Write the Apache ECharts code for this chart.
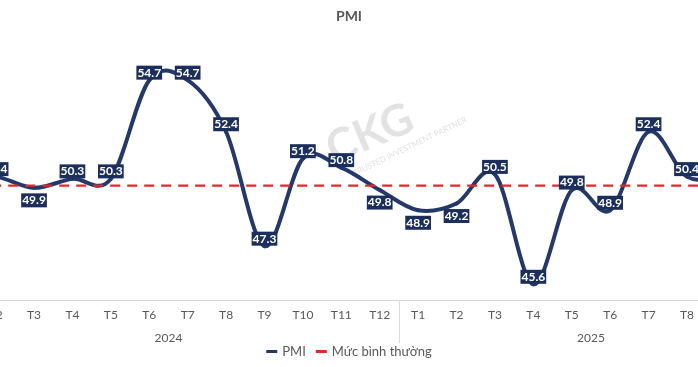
<!DOCTYPE html>
<html>
<head>
<meta charset="utf-8">
<script src="https://cdn.jsdelivr.net/npm/echarts@6/dist/echarts.min.js"></script>
<style>
html,body{margin:0;padding:0;background:#fff;overflow:hidden;}
#chart{width:698px;height:367px;}
</style>
</head>
<body>
<div id="chart"></div>
<script>
// ---- data ----
const categories = ['T1','T2','T3','T4','T5','T6','T7','T8','T9','T10','T11','T12',
                    'T1','T2','T3','T4','T5','T6','T7','T8','T9','T10'];
const years = ['2024', '2025'];
const monthsPerYear = [12, 10];
const pmiValues = [50.3, 50.4, 49.9, 50.3, 50.3, 54.7, 54.7, 52.4, 47.3, 51.2, 50.8, 49.8,
                   48.9, 49.2, 50.5, 45.6, 49.8, 48.9, 52.4, 50.4, 50.4, null];
const normalValues = [50,50,50,50,50,50,50,50,50,50,50,50,50,50,50,50,50,50,50,50,50,50];
const labelSide = ['top','top','bottom','top','top','top','top','top','top','top','top','bottom',
                   'bottom','bottom','top','top','top','top','top','top','top','top'];

const NAVY = '#25386a';
const LABEL_BG = '#1c2f5c';
const RED = '#e5262b';
const GREY = '#595959';
const FONT = 'Lato, "Noto Sans", sans-serif';

// year group centres and separators (in category index units)
const yearCentres = [];
const yearSeparators = [];
let start = 0;
monthsPerYear.forEach((n, k) => {
  yearCentres.push(start + (n - 1) / 2);
  if (k < monthsPerYear.length - 1) yearSeparators.push(start + n - 0.5);
  start += n;
});

const chart = echarts.init(document.getElementById('chart'), null, {renderer: 'canvas'});

function pointAt(api, i) {
  return api.coord([i, pmiValues[i]]);
}

const option = {
  backgroundColor: '#fff',
  animation: false,
  title: {
    text: 'PMI',
    left: 'center',
    top: 4,
    textStyle: {fontFamily: FONT, fontSize: 14, fontWeight: 'bold', color: GREY}
  },
  legend: {
    bottom: 4,
    left: 'center',
    itemWidth: 11,
    itemHeight: 3,
    itemGap: 10,
    textStyle: {fontFamily: FONT, fontSize: 13, color: GREY},
    data: [
      {name: 'PMI', icon: 'rect', itemStyle: {color: NAVY}},
      {name: 'Mức bình thường', icon: 'rect', itemStyle: {color: RED}}
    ]
  },
  grid: {left: -62, right: -85, top: 51, bottom: 67, outerBoundsMode: 'none', containLabel: false},
  xAxis: [
    {
      type: 'category',
      data: categories,
      boundaryGap: true,
      position: 'bottom',
      axisLine: {show: true, lineStyle: {color: '#d9d9d9', width: 1}},
      axisTick: {show: false},
      axisLabel: {interval: 0, margin: 9, fontFamily: FONT, fontSize: 12, color: GREY}
    },
    {
      type: 'value',
      min: -0.5,
      max: categories.length - 0.5,
      position: 'bottom',
      axisLine: {show: false},
      splitLine: {show: false},
      axisTick: {show: true, customValues: yearSeparators, length: 43, lineStyle: {color: '#d9d9d9'}},
      axisLabel: {
        customValues: yearCentres,
        margin: 32,
        fontFamily: FONT, fontSize: 12, color: GREY,
        formatter: function (v) {
          let idx = 0;
          for (let k = 0; k < yearSeparators.length; k++) if (v > yearSeparators[k]) idx = k + 1;
          return years[idx];
        }
      }
    }
  ],
  yAxis: {
    type: 'value',
    min: 44.9,
    max: 56,
    show: false,
    splitLine: {show: false}
  },
  series: [
    {
      name: 'PMI',
      type: 'custom',
      xAxisIndex: 0,
      z: 2,
      itemStyle: {color: NAVY},
      data: pmiValues.map((v, i) => [i, v]),
      renderItem: function (params, api) {
        const i = params.dataIndex;
        const n = pmiValues.length;
        if (pmiValues[i] == null || i + 1 >= n || pmiValues[i + 1] == null) {
          return {type: 'group', children: []};
        }
        const p1 = pointAt(api, i);
        const p2 = pointAt(api, i + 1);
        const p0 = (i - 1 >= 0 && pmiValues[i - 1] != null) ? pointAt(api, i - 1) : p1;
        const p3 = (i + 2 < n && pmiValues[i + 2] != null) ? pointAt(api, i + 2) : p2;
        return {
          type: 'bezierCurve',
          shape: {
            x1: p1[0], y1: p1[1],
            x2: p2[0], y2: p2[1],
            cpx1: p1[0] + (p2[0] - p0[0]) / 6,
            cpy1: p1[1] + (p2[1] - p0[1]) / 6,
            cpx2: p2[0] - (p3[0] - p1[0]) / 6,
            cpy2: p2[1] - (p3[1] - p1[1]) / 6
          },
          style: {stroke: NAVY, lineWidth: 4, fill: null, lineCap: 'round', lineJoin: 'round'}
        };
      }
    },
    {
      name: 'Mức bình thường',
      type: 'line',
      xAxisIndex: 0,
      z: 3,
      data: normalValues,
      symbol: 'none',
      itemStyle: {color: RED},
      lineStyle: {color: RED, width: 2.2, type: [10, 7]}
    },
    {
      name: 'PMI labels',
      type: 'scatter',
      xAxisIndex: 0,
      z: 4,
      symbolSize: 1,
      itemStyle: {color: LABEL_BG, opacity: 1},
      emphasis: {disabled: true},
      data: pmiValues.map((v, i) => v == null ? null : {
        value: [i, v],
        label: {position: labelSide[i], distance: labelSide[i] === 'top' ? 0 : 5}
      }),
      label: {
        show: true,
        opacity: 1,
        formatter: p => p.value[1].toFixed(1),
        fontFamily: FONT,
        fontSize: 12,
        fontWeight: 'bold',
        color: '#fff',
        backgroundColor: LABEL_BG,
        padding: [1, 1, 1, 1],
        lineHeight: 12
      }
    }
  ],
  graphic: [
    {
      type: 'text', left: 320, top: 96, rotation: 0.4, z: 0, silent: true,
      style: {text: 'CKG', fontFamily: FONT, fontSize: 44, fontWeight: 'bold', fill: 'rgba(200,200,200,0.5)'}
    },
    {
      type: 'text', x: 352, y: 170, rotation: 0.45, z: 0, silent: true,
      style: {text: 'TRUSTED INVESTMENT PARTNER', fontFamily: FONT, fontSize: 8, fill: 'rgba(200,200,200,0.55)'}
    }
  ]
};
chart.setOption(option);
</script>
</body>
</html>
